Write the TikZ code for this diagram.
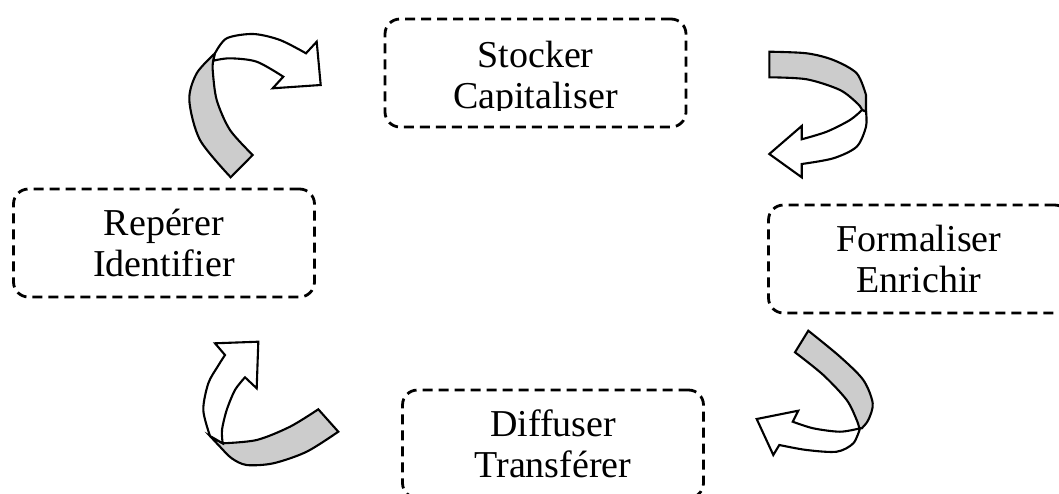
\documentclass[tikz,border=0pt]{standalone}
\usepackage{fontspec}
\setmainfont{Liberation Serif}
\begin{document}
\begin{tikzpicture}[x=1pt,y=-1pt]
\tikzset{etape/.style={draw, line width=2.8pt, dash pattern=on 10pt off 6pt, rounded corners=15pt, minimum width=301pt, minimum height=108pt, inner sep=0pt, align=center, font=\fontsize{38}{41}\selectfont}}
\tikzset{ruban/.style={draw, fill=gray!40, line width=2.1pt}}
\tikzset{fleche/.style={draw, fill=white, line width=2.1pt}}

\useasboundingbox (0,0) rectangle (1059,493);

% Steps of the cycle
\node[etape] (stocker) at (535.5,73) {};
\begin{scope}
\clip (390,25) rectangle (680,110);
\node[align=center, font=\fontsize{38}{41}\selectfont] (stockertxt) at (535.5,79) {Stocker\\Capitaliser};
\end{scope}
\node[etape] (reperer) at (164,243) {Repérer\\Identifier};
\node[etape] (formaliser) at (919,259) {Formaliser\\Enrichir};
\node[etape] (diffuser) at (553,444) {Diffuser\\Transférer};

% Curved arrow, top left
\filldraw[ruban] plot[smooth] coordinates {(230.7,177.3) (200,140) (189.3,100) (196.7,73.3) (215,53.3)}
 -- plot[smooth] coordinates {(213.3,60.7) (212.7,70) (216.7,100) (230,130) (252.7,155)} -- cycle;
\filldraw[fleche] plot[smooth] coordinates {(215,53.3) (226.7,38.3) (253.3,34) (280,40) (306,53.3)}
 -- (316.7,41.7) -- (320.7,85) -- (272.7,88.3) -- (283.3,76.7)
 -- plot[smooth] coordinates {(283.3,76.7) (256.7,61.7) (230,58.3) (213.3,60.7)} -- cycle;

% Curved arrow, top right
\filldraw[ruban] (769.3,51.7) -- (769.3,77.3)
 -- plot[smooth] coordinates {(769.3,77.3) (806.7,79.3) (840,90) (858,104) (862,110)}
 -- (866,111.7) -- (866,95)
 -- plot[smooth] coordinates {(866,95) (856.7,73.3) (833.3,60) (806.7,53.3) (769.3,51.7)} -- cycle;
\filldraw[fleche] plot[smooth] coordinates {(862,110) (850,120) (826.7,131.7) (801.7,139.3)}
 -- (801.7,126) -- (769.3,154) -- (801.7,177.3) -- (801.7,164)
 -- plot[smooth] coordinates {(801.7,164) (833.3,158.3) (856.7,146.7) (866,126.7) (866,111.7)} -- cycle;

% Curved arrow, bottom right
\filldraw[ruban] (795,352.3) -- (808.3,330.7)
 -- plot[smooth] coordinates {(808.3,330.7) (840,356.7) (863.3,380) (872.7,403.3) (868.3,420) (861.7,428.3)}
 -- plot[smooth] coordinates {(859.3,428.3) (856.7,420) (846.7,400) (823.3,375) (795,352.3)} -- cycle;
\filldraw[fleche] plot[smooth] coordinates {(860,428.3) (840,431.7) (813.3,428.3) (792.7,421.7)}
 -- (798.3,410.7) -- (756.7,419) -- (773.3,455) -- (779.3,445)
 -- plot[smooth] coordinates {(779.3,445) (806.7,450) (836.7,451.7) (853.3,443.3) (860,428.3)} -- cycle;

% Curved arrow, bottom left
\filldraw[ruban] (318.3,409.3) -- (338.3,431.7)
 -- plot[smooth] coordinates {(338.3,431.7) (306.7,451.7) (273.3,463.3) (246.7,465) (231.7,458.3) (220,446.7) (210,436)}
 -- plot[smooth] coordinates {(222.7,443.3) (256.7,440) (290,426.7) (318.3,409.3)} -- cycle;
\filldraw[fleche] plot[smooth] coordinates {(210,436) (203.3,410) (208.3,383.3) (218,366) (225,355)}
 -- (215,343.3) -- (258.3,341.7) -- (256.7,388.3) -- (245,377.3)
 -- plot[smooth] coordinates {(245,377.3) (235,390) (226.7,410) (222,430) (222.7,443.3)} -- cycle;

\end{tikzpicture}
\end{document}
